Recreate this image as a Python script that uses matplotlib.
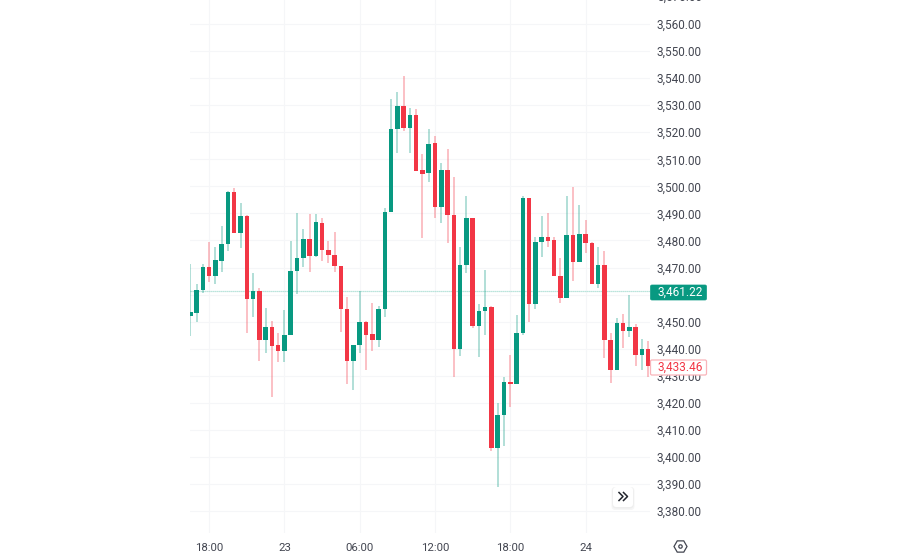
import matplotlib
matplotlib.use("Agg")
import matplotlib.pyplot as plt
from matplotlib.patches import FancyBboxPatch, RegularPolygon, Circle

plt.rcParams['font.family'] = ['Roboto', 'DejaVu Sans']

# candles, 30 min each
opens = [3452.2, 3453.3, 3461.7, 3470.3, 3467.0, 3472.5, 3478.8, 3498.0, 3482.6, 3488.9,
         3458.2, 3461.3, 3443.1, 3447.9, 3441.2, 3439.3, 3445.0, 3468.7, 3473.6, 3480.7,
         3474.1, 3486.4, 3476.3, 3474.6, 3470.7, 3454.5, 3435.3, 3441.4, 3449.9, 3445.3,
         3443.1, 3454.5, 3490.5, 3521.2, 3529.7, 3521.6, 3526.2, 3505.9, 3504.8, 3515.9,
         3492.5, 3506.0, 3489.5, 3439.9, 3470.9, 3488.3, 3448.5, 3454.0, 3455.5, 3403.2,
         3415.6, 3427.7, 3427.1, 3445.9, 3495.6, 3456.6, 3479.3, 3481.4, 3480.0, 3467.0,
         3458.6, 3482.1, 3472.0, 3482.3, 3479.2, 3464.0, 3470.9, 3443.2, 3432.2, 3449.6,
         3446.4, 3447.9, 3437.8, 3439.8]
closes = [3453.4, 3461.7, 3470.3, 3467.0, 3472.6, 3478.8, 3497.9, 3482.6, 3488.9, 3458.2,
          3461.3, 3443.1, 3447.9, 3441.1, 3439.3, 3445.0, 3468.8, 3473.6, 3480.7, 3474.1,
          3486.7, 3476.3, 3474.6, 3470.7, 3454.5, 3435.3, 3441.4, 3449.9, 3444.9, 3443.1,
          3454.5, 3490.5, 3521.2, 3529.7, 3521.6, 3526.2, 3505.8, 3504.7, 3515.6, 3492.5,
          3506.0, 3489.5, 3439.9, 3470.9, 3488.3, 3448.5, 3454.0, 3455.5, 3403.2, 3415.6,
          3427.7, 3427.1, 3445.9, 3495.6, 3456.6, 3479.3, 3481.4, 3479.9, 3467.0, 3458.6,
          3482.1, 3472.0, 3482.3, 3479.2, 3464.0, 3470.9, 3443.2, 3432.2, 3449.6, 3446.4,
          3448.0, 3437.8, 3439.8, 3433.46]
highs = [3471.3, 3463.9, 3471.3, 3479.3, 3477.7, 3485.3, 3498.4, 3499.3, 3494.0, 3489.4,
         3467.8, 3462.3, 3454.9, 3450.2, 3445.7, 3454.3, 3479.7, 3490.0, 3484.2, 3489.7,
         3489.8, 3488.2, 3479.8, 3483.1, 3470.7, 3459.0, 3441.4, 3461.4, 3450.4, 3456.8,
         3455.8, 3491.9, 3532.2, 3534.7, 3540.8, 3528.8, 3528.5, 3511.9, 3521.1, 3518.6,
         3508.7, 3513.7, 3503.3, 3477.7, 3496.4, 3488.3, 3456.5, 3469.1, 3455.8, 3420.0,
         3429.6, 3437.5, 3452.4, 3496.4, 3495.6, 3481.2, 3489.0, 3490.0, 3481.4, 3473.4,
         3496.4, 3499.9, 3493.1, 3487.6, 3479.3, 3477.7, 3476.1, 3445.9, 3451.2, 3452.7,
         3459.8, 3449.1, 3443.6, 3443.0]
lows = [3444.7, 3450.0, 3460.7, 3464.8, 3463.9, 3468.3, 3476.2, 3482.6, 3477.3, 3445.9,
        3451.8, 3435.4, 3438.5, 3422.3, 3434.9, 3435.2, 3445.0, 3460.1, 3470.1, 3468.3,
        3473.8, 3472.4, 3471.8, 3468.3, 3446.3, 3426.9, 3424.7, 3438.5, 3432.1, 3439.3,
        3440.5, 3451.8, 3490.5, 3512.2, 3520.3, 3512.2, 3505.8, 3480.8, 3501.5, 3488.2,
        3486.3, 3479.2, 3429.4, 3437.4, 3468.1, 3447.5, 3436.8, 3445.0, 3402.3, 3388.7,
        3404.0, 3418.6, 3426.9, 3445.2, 3449.9, 3454.8, 3474.0, 3477.7, 3466.9, 3457.0,
        3458.6, 3465.0, 3471.9, 3475.5, 3464.0, 3462.3, 3436.4, 3427.4, 3432.2, 3440.1,
        3444.4, 3433.7, 3432.2, 3429.4]

price_ticks = [3380, 3390, 3400, 3410, 3420, 3430, 3440, 3450, 3460, 3470, 3480, 3490,
               3500, 3510, 3520, 3530, 3540, 3550, 3560]
time_pos = [3, 15, 27, 39, 51, 63]
time_labels = ['18:00', '23', '06:00', '12:00', '18:00', '24']
last_close = 3433.46
live_price = 3461.22

GREEN = '#089981'
RED = '#f23645'
TEXT = '#434651'

fig = plt.figure(figsize=(9, 5.6), dpi=100, facecolor='white')
ax = fig.add_axes([190 / 900, 1 - 533 / 560, 460 / 900, 533 / 560])

x = list(range(len(opens)))
colors = [GREEN if c >= o else RED for o, c in zip(opens, closes)]
bottoms = [min(o, c) for o, c in zip(opens, closes)]
heights = [abs(c - o) for o, c in zip(opens, closes)]

ax.vlines(x, lows, highs, colors=colors, linewidth=1.1, alpha=0.4, zorder=2)
ax.bar(x, heights, bottom=bottoms, width=0.72, color=colors, linewidth=0, zorder=3)
ax.axhline(live_price, color='#a5dcd1', linewidth=0.9, linestyle=(0, (1, 0.6)), zorder=1)

ax.set_xlim(-0.05, 73.27)
ax.set_ylim(3371.87, 3568.87)
ax.yaxis.tick_right()
ax.set_yticks(price_ticks)
# the 3,460 label is hidden behind the live price tag
ax.set_yticklabels(['' if p == 3460 else f'{p:,.2f}' for p in price_ticks])
ax.set_xticks(time_pos)
ax.set_xticklabels(time_labels)
ax.tick_params(axis='y', length=0, pad=5, labelsize=8.5, labelcolor=TEXT)
ax.tick_params(axis='x', length=0, pad=7, labelsize=8.2, labelcolor=TEXT)
ax.grid(True, color='#f5f6f8', linewidth=0.8)
ax.set_axisbelow(True)
for s in ax.spines.values():
    s.set_visible(False)

# cut off label at the very top
ax.text(1 + 7 / 460, 3570, '3,570.00', transform=ax.get_yaxis_transform(), fontsize=8.5,
        color=TEXT, va='center', ha='left', clip_on=False)

# overlay in pixel coordinates for the price tags and buttons
ov = fig.add_axes([0, 0, 1, 1], facecolor='none')
ov.set_xlim(0, 900)
ov.set_ylim(560, 0)
ov.axis('off')

ov.add_patch(FancyBboxPatch((650.5, 285), 56, 15, boxstyle='round,pad=0,rounding_size=1.5',
                            fc=GREEN, ec=GREEN, lw=0.5))
ov.text(680, 292, f'{live_price:,.2f}', color='white', fontsize=8.5, ha='center', va='center')

ov.add_patch(FancyBboxPatch((650.5, 360), 56, 15, boxstyle='round,pad=0,rounding_size=1.5',
                            fc='white', ec='#f9b4ba', lw=0.9))
ov.text(680, 367, f'{last_close:,.2f}', color=RED, fontsize=8.5, ha='center', va='center')

# scroll button with a soft shadow
for off, col in [(3, '#f6f6f6'), (1.5, '#eeeeee')]:
    ov.add_patch(FancyBboxPatch((613 - off / 2, 487), 20 + off, 20 + off,
                                boxstyle='round,pad=0,rounding_size=4', fc=col, ec='none'))
ov.add_patch(FancyBboxPatch((613, 487), 20, 20, boxstyle='round,pad=0,rounding_size=3',
                            fc='white', ec='none'))
ov.plot([619, 623, 619], [492.5, 496.5, 500.5], color='#22252e', lw=1.1)
ov.plot([623.5, 627.5, 623.5], [492.5, 496.5, 500.5], color='#22252e', lw=1.1)

# settings icon
ov.add_patch(RegularPolygon((680.5, 546.5), 6, radius=6.5, orientation=1.5708, fc='none',
                            ec=TEXT, lw=0.9))
ov.add_patch(Circle((680.5, 546.5), 1.7, fc='none', ec=TEXT, lw=0.9))

fig.savefig('out.png', dpi=100, facecolor='white')
